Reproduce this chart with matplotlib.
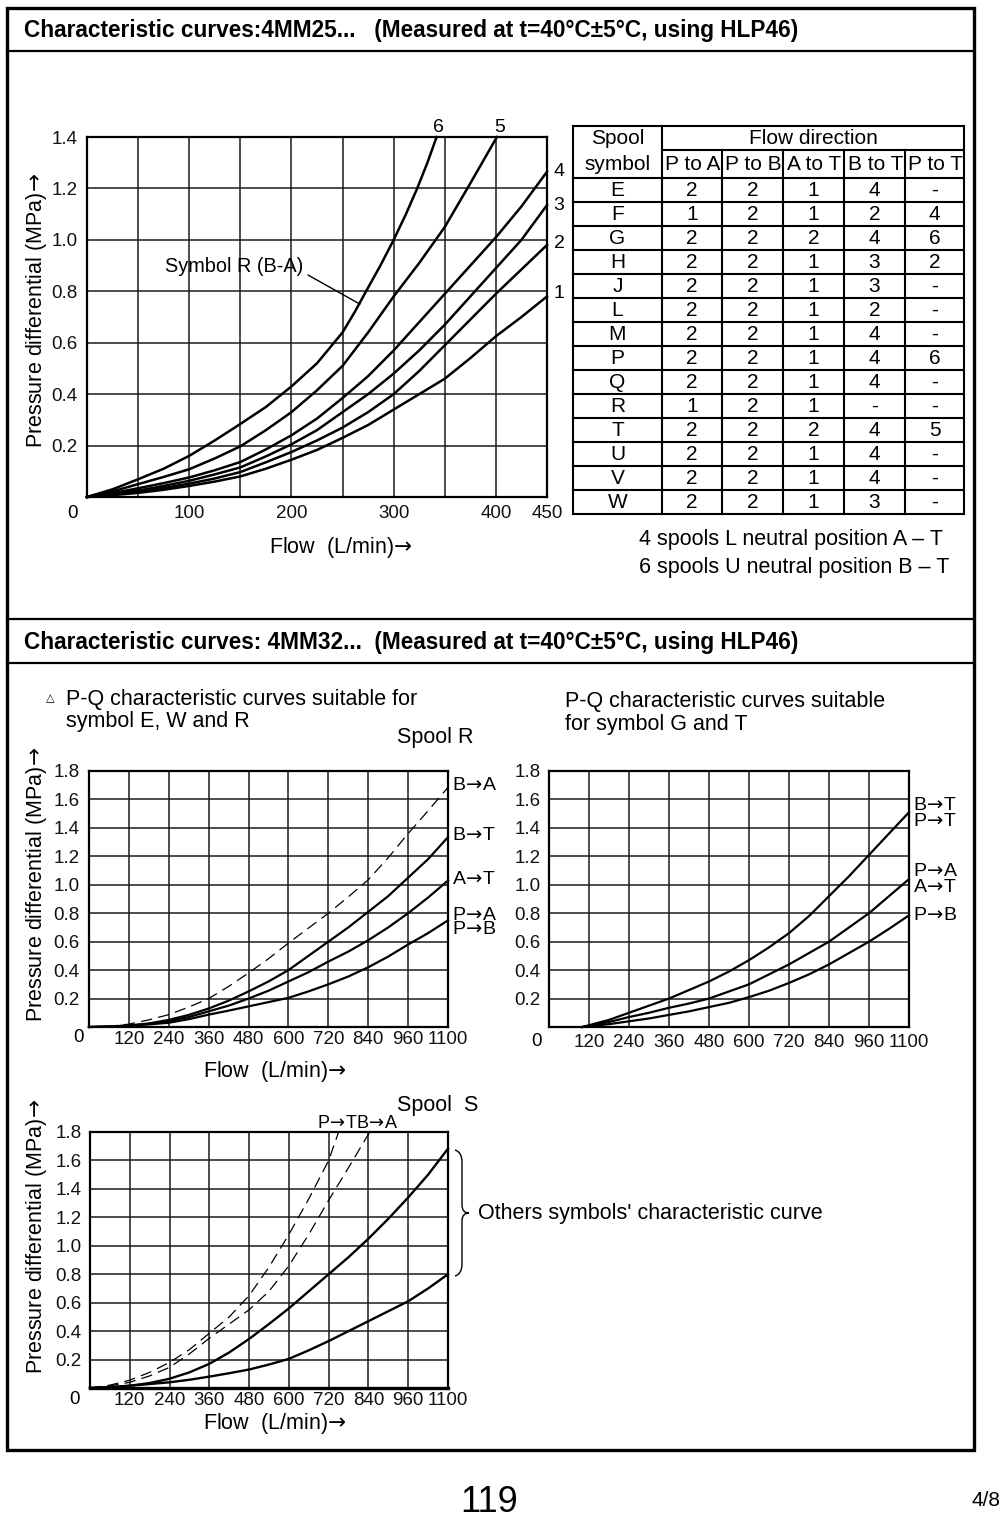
import matplotlib.pyplot as plt
from matplotlib.path import Path
from matplotlib.patches import PathPatch, Rectangle

plt.rcParams['font.family'] = ['Liberation Sans', 'DejaVu Sans']

# ---------------- data: 4MM25 (flow L/min -> pressure differential MPa)
flow_25 = [0, 25, 50, 75, 100, 125, 150, 175, 200, 225, 250, 275, 300, 325, 350, 375, 400, 425, 450]
curve1_dp = [0, 0.007, 0.016, 0.028, 0.043, 0.06, 0.08, 0.11, 0.145, 0.183, 0.23, 0.28, 0.34, 0.4, 0.46, 0.54, 0.625, 0.70, 0.78]
curve2_dp = [0, 0.01, 0.021, 0.035, 0.052, 0.072, 0.097, 0.135, 0.175, 0.22, 0.27, 0.33, 0.4, 0.49, 0.59, 0.69, 0.79, 0.885, 0.98]
curve3_dp = [0, 0.012, 0.025, 0.043, 0.063, 0.088, 0.115, 0.158, 0.205, 0.26, 0.33, 0.4, 0.48, 0.57, 0.67, 0.78, 0.89, 1.0, 1.135]
curve4_dp = [0, 0.015, 0.034, 0.054, 0.076, 0.104, 0.136, 0.185, 0.24, 0.305, 0.385, 0.47, 0.57, 0.68, 0.79, 0.9, 1.01, 1.13, 1.265]
curve5_flow = [0, 25, 50, 75, 100, 125, 150, 175, 200, 225, 250, 275, 300, 325, 350, 375, 401]
curve5_dp = [0, 0.022, 0.05, 0.078, 0.108, 0.15, 0.197, 0.26, 0.33, 0.415, 0.51, 0.64, 0.78, 0.91, 1.05, 1.22, 1.4]
curve6_flow = [0, 25, 50, 75, 100, 125, 150, 175, 200, 225, 250, 262, 273, 287, 300, 312, 323, 333, 342]
curve6_dp = [0, 0.03, 0.069, 0.11, 0.16, 0.22, 0.284, 0.35, 0.43, 0.52, 0.64, 0.72, 0.8, 0.9, 1.0, 1.1, 1.2, 1.3, 1.4]

# table: spool symbol / flow direction curve numbers
spool_symbols = ['E', 'F', 'G', 'H', 'J', 'L', 'M', 'P', 'Q', 'R', 'T', 'U', 'V', 'W']
p_to_a = ['2', '1', '2', '2', '2', '2', '2', '2', '2', '1', '2', '2', '2', '2']
p_to_b = ['2', '2', '2', '2', '2', '2', '2', '2', '2', '2', '2', '2', '2', '2']
a_to_t = ['1', '1', '2', '1', '1', '1', '1', '1', '1', '1', '2', '1', '1', '1']
b_to_t = ['4', '2', '4', '3', '3', '2', '4', '4', '4', '-', '4', '4', '4', '3']
p_to_t = ['-', '4', '6', '2', '-', '-', '-', '6', '-', '-', '5', '-', '-', '-']
flow_dirs = ['P to A', 'P to B', 'A to T', 'B to T', 'P to T']

# ---------------- data: 4MM32, spool R
flow_32 = [0, 60, 120, 180, 240, 300, 360, 420, 480, 540, 600, 660, 720, 780, 840, 900, 960, 1020, 1080]
r_b_a = [0, 0.005, 0.02, 0.05, 0.087, 0.14, 0.2, 0.285, 0.38, 0.48, 0.59, 0.695, 0.8, 0.915, 1.035, 1.19, 1.36, 1.52, 1.685]
r_b_t = [0, 0.003, 0.01, 0.025, 0.05, 0.085, 0.13, 0.185, 0.25, 0.32, 0.4, 0.5, 0.6, 0.7, 0.81, 0.92, 1.05, 1.18, 1.335]
r_a_t = [0, 0.003, 0.01, 0.022, 0.04, 0.07, 0.11, 0.15, 0.2, 0.255, 0.32, 0.385, 0.46, 0.53, 0.61, 0.7, 0.8, 0.91, 1.03]
r_p_ab = [0, 0.003, 0.01, 0.018, 0.03, 0.055, 0.087, 0.115, 0.145, 0.175, 0.205, 0.25, 0.3, 0.355, 0.42, 0.495, 0.58, 0.66, 0.75]

# spool G and T
gt_flow = [100, 180, 240, 300, 360, 420, 480, 540, 600, 660, 720, 780, 840, 900, 960, 1020, 1080]
gt_b_t = [0, 0.05, 0.1, 0.15, 0.2, 0.26, 0.32, 0.39, 0.47, 0.56, 0.66, 0.78, 0.92, 1.06, 1.21, 1.36, 1.51]
gt_p_a = [0, 0.035, 0.07, 0.1, 0.135, 0.165, 0.2, 0.25, 0.3, 0.37, 0.44, 0.52, 0.6, 0.7, 0.8, 0.92, 1.04]
gt_p_b = [0, 0.02, 0.04, 0.06, 0.085, 0.11, 0.14, 0.17, 0.21, 0.255, 0.31, 0.37, 0.44, 0.52, 0.6, 0.69, 0.785]

# spool S
s_upper = [0, 0.005, 0.016, 0.035, 0.065, 0.11, 0.17, 0.25, 0.345, 0.45, 0.56, 0.68, 0.8, 0.92, 1.05, 1.19, 1.34, 1.5, 1.683]
s_lower = [0, 0.006, 0.016, 0.028, 0.04, 0.058, 0.08, 0.104, 0.13, 0.165, 0.205, 0.265, 0.33, 0.4, 0.47, 0.54, 0.61, 0.7, 0.8]
s_p_t_flow = [0, 60, 120, 180, 240, 300, 360, 420, 480, 540, 600, 660, 720, 750]
s_p_t = [0, 0.02, 0.055, 0.11, 0.18, 0.27, 0.385, 0.5, 0.65, 0.85, 1.08, 1.33, 1.6, 1.8]
s_b_a_flow = [0, 60, 120, 180, 240, 300, 360, 420, 480, 540, 600, 660, 720, 780, 844]
s_b_a = [0, 0.015, 0.04, 0.085, 0.145, 0.24, 0.35, 0.45, 0.55, 0.68, 0.86, 1.08, 1.32, 1.55, 1.8]

# axis ticks
x25_grid = [0, 50, 100, 150, 200, 250, 300, 350, 400, 450]
x25_labels = ['', '', '100', '', '200', '', '300', '', '400', '450']
y25_grid = [0, 0.2, 0.4, 0.6, 0.8, 1.0, 1.2, 1.4]
x32_grid = [0, 120, 240, 360, 480, 600, 720, 840, 960, 1080]
x32_labels = ['', '120', '240', '360', '480', '600', '720', '840', '960', '1100']
y32_grid = [0, 0.2, 0.4, 0.6, 0.8, 1.0, 1.2, 1.4, 1.6, 1.8]

W, H = 1000, 1522
FS = 15.5
ARR = r'$\!\rightarrow\!$'
ARROW_Y = 'Pressure differential (MPa)' + ARR
FLOW_X = 'Flow  (L/min)' + ARR

fig = plt.figure(figsize=(W / 100, H / 100), dpi=100)


def px_axes(x0, y0, x1, y1):
    return fig.add_axes([x0 / W, 1 - y1 / H, (x1 - x0) / W, (y1 - y0) / H])


def ftext(x, y, s, **kw):
    kw.setdefault('va', 'center')
    kw.setdefault('fontsize', FS)
    return fig.text(x / W, 1 - y / H, s, **kw)


def fline(xs, ys, lw=1.6):
    fig.add_artist(plt.Line2D([x / W for x in xs], [1 - y / H for y in ys],
                              color='black', lw=lw, transform=fig.transFigure))


def grid_axes(ax, xlim, ylim, xg, xl, yg, ypad, xpad):
    ax.set_xlim(*xlim)
    ax.set_ylim(*ylim)
    ax.set_xticks(xg)
    ax.set_xticklabels(xl)
    ax.set_yticks(yg)
    ax.set_yticklabels([''] + ['%.1f' % v for v in yg[1:]])
    ax.grid(True, color='#1a1a1a', lw=1.1)
    ax.set_axisbelow(True)
    ax.tick_params(length=0, labelsize=13.5, colors='#111111')
    ax.tick_params(axis='y', pad=ypad)
    ax.tick_params(axis='x', pad=xpad)
    for s in ax.spines.values():
        s.set_linewidth(1.6)


# ---------------- page frame
fig.add_artist(Rectangle((7 / W, 1 - 1450 / H), 967 / W, 1442 / H, fill=False,
                         lw=2.4, ec='black', transform=fig.transFigure))
fline([7, 974], [51, 51])
fline([7, 974], [619, 619])
fline([7, 974], [663, 663])

ftext(24, 31, 'Characteristic curves:4MM25...   (Measured at t=40\u00b0C\u00b15\u00b0C, using HLP46)',
      fontsize=16.3, fontweight='bold')
ftext(24, 643, 'Characteristic curves: 4MM32...  (Measured at t=40\u00b0C\u00b15\u00b0C, using HLP46)',
      fontsize=16.3, fontweight='bold')

# ---------------- 4MM25 chart
ax1 = px_axes(87, 137, 547, 497)
grid_axes(ax1, (0, 450), (0, 1.4), x25_grid, x25_labels, y25_grid, 7, 6)
for ys in [curve1_dp, curve2_dp, curve3_dp, curve4_dp]:
    ax1.plot(flow_25, ys, color='black', lw=1.8, clip_on=False)
ax1.plot(curve5_flow, curve5_dp, color='black', lw=1.8, clip_on=False)
ax1.plot(curve6_flow, curve6_dp, color='black', lw=1.8, clip_on=False)
ax1.annotate('', xy=(267, 0.75), xycoords='data', xytext=(308 / W, 1 - 275 / H),
             textcoords='figure fraction',
             arrowprops=dict(arrowstyle='-', lw=1.0, color='black', shrinkA=0, shrinkB=0))
ftext(165, 267, 'Symbol R (B-A)', fontsize=14.3)
for lab, x, y in [('6', 438, 128), ('5', 500, 128), ('4', 559, 172), ('3', 559, 206),
                  ('2', 559, 244), ('1', 559, 294)]:
    ftext(x, y, lab, ha='center', fontsize=14)
ftext(73, 513, '0', ha='center', fontsize=13.5)
ftext(37, 310, ARROW_Y, rotation=90, ha='center')
ftext(341, 548, FLOW_X, ha='center')

# ---------------- table
tax = px_axes(573, 126, 964, 514)
tax.set_xlim(573, 964)
tax.set_ylim(514, 126)
tax.axis('off')
col_edges = [573, 662, 722, 783, 844, 905, 964]
row_tops = [178 + 24 * i for i in range(len(spool_symbols) + 1)]
tk = dict(color='black', lw=1.5, clip_on=False)
tax.plot([573, 964], [126, 126], **tk)
tax.plot([662, 964], [150, 150], **tk)
for y in row_tops:
    tax.plot([573, 964], [y, y], **tk)
for x in col_edges:
    tax.plot([x, x], [126 if x in (573, 662, 964) else 150, 514], **tk)
tax.text(617.5, 138, 'Spool', ha='center', va='center', fontsize=15)
tax.text(617.5, 165, 'symbol', ha='center', va='center', fontsize=15)
tax.text(813, 138, 'Flow direction', ha='center', va='center', fontsize=15)
for j, name in enumerate(flow_dirs):
    tax.text((col_edges[j + 1] + col_edges[j + 2]) / 2 + 1, 164, name,
             ha='center', va='center', fontsize=15)
columns = [spool_symbols, p_to_a, p_to_b, a_to_t, b_to_t, p_to_t]
for j, col in enumerate(columns):
    cx = (col_edges[j] + col_edges[j + 1]) / 2
    for i, v in enumerate(col):
        tax.text(cx, row_tops[i] + 12.5, v, ha='center', va='center', fontsize=15)
ftext(639, 540, '4 spools L neutral position A \u2013 T')
ftext(639, 568, '6 spools U neutral position B \u2013 T')

# ---------------- 4MM32 spool R
ax2 = px_axes(89, 771, 448, 1027)
grid_axes(ax2, (0, 1080), (0, 1.8), x32_grid, x32_labels, y32_grid, 7, 3)
ax2.plot(flow_32, r_b_a, color='black', lw=0.9, dashes=(9, 5), clip_on=False)
for ys in [r_b_t, r_a_t, r_p_ab]:
    ax2.plot(flow_32, ys, color='black', lw=1.6, clip_on=False)
for lab, y in [('B' + ARR + 'A', 786), ('B' + ARR + 'T', 835), ('A' + ARR + 'T', 880),
               ('P' + ARR + 'A', 915), ('P' + ARR + 'B', 930)]:
    ftext(452, y, lab, fontsize=14)
ftext(50, 698, '\u25b3', fontsize=8, ha='center')
ftext(66, 700, 'P-Q characteristic curves suitable for')
ftext(66, 722, 'symbol E, W and R')
ftext(397, 737, 'Spool R')
ftext(78, 1038, '0', ha='center', fontsize=13.5)
ftext(37, 884, ARROW_Y, rotation=90, ha='center')
ftext(275, 1072, FLOW_X, ha='center')

# ---------------- spool G and T
ax3 = px_axes(549, 771, 909, 1027)
grid_axes(ax3, (0, 1080), (0, 1.8), x32_grid, x32_labels, y32_grid, 6, 5)
for ys in [gt_b_t, gt_p_a, gt_p_b]:
    ax3.plot(gt_flow, ys, color='black', lw=1.6, clip_on=False)
for lab, y in [('B' + ARR + 'T', 805), ('P' + ARR + 'T', 821), ('P' + ARR + 'A', 871),
               ('A' + ARR + 'T', 887), ('P' + ARR + 'B', 916)]:
    ftext(913, y, lab, fontsize=14)
ftext(565, 702, 'P-Q characteristic curves suitable')
ftext(565, 724, 'for symbol G and T')
ftext(537, 1041, '0', ha='center', fontsize=13.5)

# ---------------- spool S
ax4 = px_axes(90, 1132, 448, 1388)
grid_axes(ax4, (0, 1080), (0, 1.8), x32_grid, x32_labels, y32_grid, 6, 3)
ax4.plot(s_p_t_flow, s_p_t, color='black', lw=0.9, dashes=(9, 5), clip_on=False)
ax4.plot(s_b_a_flow, s_b_a, color='black', lw=0.9, dashes=(9, 5), clip_on=False)
ax4.plot(flow_32, s_upper, color='black', lw=1.7, clip_on=False)
ax4.plot(flow_32, s_lower, color='black', lw=1.7, clip_on=False)
ax4.spines['bottom'].set_linewidth(2.4)
ftext(397, 1105, 'Spool  S')
ftext(317, 1123, 'P' + ARR + 'TB' + ARR + 'A', fontsize=13)
ftext(75, 1399, '0', ha='center', fontsize=13.5)
ftext(37, 1236, ARROW_Y, rotation=90, ha='center')
ftext(275, 1423, FLOW_X, ha='center')

# curly brace grouping the two solid curves
brace_px = [(455, 1150), (462, 1152), (462, 1162), (462, 1205), (462, 1213), (469, 1213),
            (462, 1213), (462, 1221), (462, 1264), (462, 1274), (455, 1276)]
codes = [Path.MOVETO, Path.CURVE3, Path.CURVE3, Path.LINETO, Path.CURVE3, Path.CURVE3,
         Path.CURVE3, Path.CURVE3, Path.LINETO, Path.CURVE3, Path.CURVE3]
brace = Path([(x / W, 1 - y / H) for x, y in brace_px], codes)
fig.add_artist(PathPatch(brace, fill=False, lw=1.0, ec='black', transform=fig.transFigure))
ftext(478, 1213, "Others symbols' characteristic curve")

# ---------------- page footer
ftext(489, 1502, '119', ha='center', fontsize=26)
ftext(986, 1500, '4/8', ha='center', fontsize=15)

fig.savefig('out.png', dpi=100)
